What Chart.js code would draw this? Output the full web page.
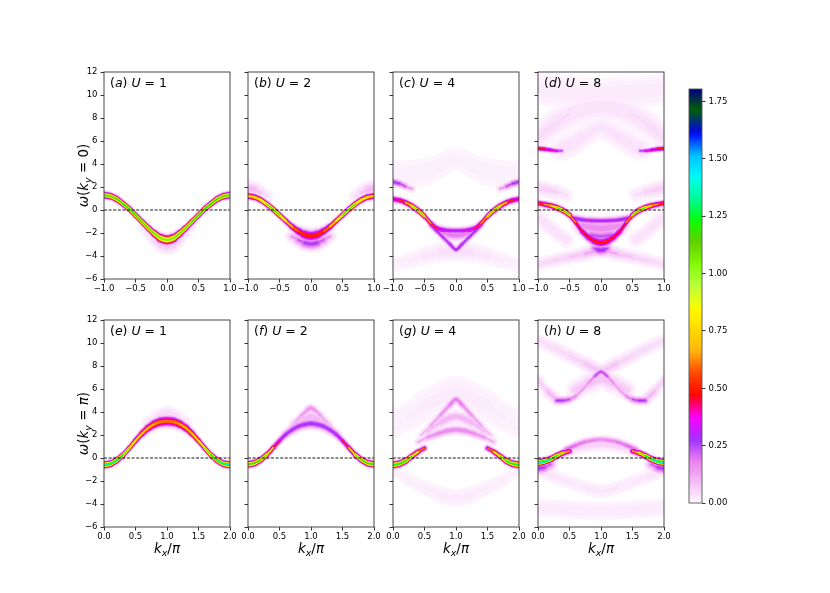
<!DOCTYPE html>
<html><head><meta charset="utf-8">
<script src="https://cdn.jsdelivr.net/npm/chart.js@4.4.1/dist/chart.umd.min.js"></script>
<style>
body{margin:0;background:#fff;width:830px;height:593px;position:relative;overflow:hidden}
canvas{position:absolute}
</style></head><body>
<script>
// ---------------- DATA ----------------
const panelLetters = ['a','b','c','d','e','f','g','h'];
const uValues = [1,2,4,8,1,2,4,8];
const kyValues = ['0','π'];
const xTicksTop = [-1,-0.5,0,0.5,1];
const xTicksBot = [0,0.5,1,1.5,2];
const yTicks = [-6,-4,-2,0,2,4,6,8,10,12];
const cbTicks = [0,0.25,0.5,0.75,1,1.25,1.5,1.75];
const VMAX = 1.805;

const kT = [-1,-0.9,-0.8,-0.7,-0.6,-0.5,-0.4,-0.3,-0.2,-0.1,0,0.1,0.2,0.3,0.4,0.5,0.6,0.7,0.8,0.9,1];
const kB = [0,0.1,0.2,0.3,0.4,0.5,0.6,0.7,0.8,0.9,1,1.1,1.2,1.3,1.4,1.5,1.6,1.7,1.8,1.9,2];
const k9T = [-1,-0.75,-0.5,-0.25,0,0.25,0.5,0.75,1];
const k9B = [0,0.25,0.5,0.75,1,1.25,1.5,1.75,2];

// (a) U=1, ky=0
const aMainW = [1.30,1.20,0.95,0.55,0.10,-0.45,-1.00,-1.55,-2.05,-2.45,-2.60,-2.45,-2.05,-1.55,-1.00,-0.45,0.10,0.55,0.95,1.20,1.30];
const aMainI = [1.2,1.22,1.25,1.3,1.35,1.3,1.25,1.2,1.18,1.15,1.12,1.15,1.18,1.2,1.25,1.3,1.35,1.3,1.25,1.22,1.2];
const aMainS = [0.15,0.15,0.15,0.15,0.15,0.15,0.16,0.17,0.19,0.21,0.22,0.21,0.19,0.17,0.16,0.15,0.15,0.15,0.15,0.15,0.15];
const aHazeK = [-0.4,-0.3,-0.2,-0.1,0,0.1,0.2,0.3,0.4];
const aHazeW = [-1.5,-2.05,-2.6,-3.0,-3.15,-3.0,-2.6,-2.05,-1.5];
const aHazeI = [0.02,0.04,0.06,0.08,0.09,0.08,0.06,0.04,0.02];

// (b) U=2, ky=0
const bMainW = [1.22,1.12,0.88,0.50,0.05,-0.45,-0.95,-1.45,-1.85,-2.15,-2.27,-2.15,-1.85,-1.45,-0.95,-0.45,0.05,0.50,0.88,1.12,1.22];
const bMainI = [0.8,0.85,0.95,1.1,1.3,1.15,0.9,0.7,0.6,0.55,0.55,0.55,0.6,0.7,0.9,1.15,1.3,1.1,0.95,0.85,0.8];
const bMainS = [0.15,0.15,0.15,0.15,0.15,0.15,0.16,0.18,0.22,0.26,0.28,0.26,0.22,0.18,0.16,0.15,0.15,0.15,0.15,0.15,0.15];
const bBlobK = [-0.3,-0.2,-0.1,0,0.1,0.2,0.3];
const bBlobW = [-2.3,-2.6,-2.85,-2.95,-2.85,-2.6,-2.3];
const bBlobI = [0.08,0.18,0.26,0.3,0.26,0.18,0.08];
const bGlowLK = [-1,-0.9,-0.8,-0.7];
const bGlowLW = [1.9,1.75,1.5,1.2];
const bGlowLI = [0.12,0.1,0.06,0.03];
const bGlowRK = [0.7,0.8,0.9,1];
const bGlowRW = [1.2,1.5,1.75,1.9];
const bGlowRI = [0.03,0.06,0.1,0.12];

// (c) U=4, ky=0
const cMainW = [0.95,0.85,0.65,0.35,-0.05,-0.55,-1.15,-1.6,-1.75,-1.8,-1.8,-1.8,-1.75,-1.6,-1.15,-0.55,-0.05,0.35,0.65,0.85,0.95];
const cMainI = [0.45,0.5,0.6,0.9,1.25,0.85,0.6,0.45,0.38,0.35,0.35,0.35,0.38,0.45,0.6,0.85,1.25,0.9,0.6,0.5,0.45];
const cMainS = [0.15,0.15,0.15,0.15,0.15,0.15,0.16,0.18,0.17,0.16,0.16,0.16,0.17,0.18,0.16,0.15,0.15,0.15,0.15,0.15,0.15];
const cVK = [-0.4,-0.3,-0.2,-0.1,0,0.1,0.2,0.3,0.4];
const cVW = [-1.3,-1.85,-2.4,-2.95,-3.45,-2.95,-2.4,-1.85,-1.3];
const cVI = [0.35,0.33,0.3,0.3,0.35,0.3,0.3,0.33,0.35];
const cInK = [-0.2,-0.1,0,0.1,0.2];
const cInW = [-2.05,-2.15,-2.2,-2.15,-2.05];
const cInI = [0.16,0.2,0.22,0.2,0.16];
const cUpLK = [-1,-0.9,-0.8,-0.7];
const cUpLW = [2.45,2.3,2.05,1.85];
const cUpLI = [0.3,0.28,0.18,0.06];
const cUpRK = [0.7,0.8,0.9,1];
const cUpRW = [1.85,2.05,2.3,2.45];
const cUpRI = [0.06,0.18,0.28,0.3];
const cLowW = [-4.8,-4.4,-4.0,-3.7,-3.6,-3.7,-4.0,-4.4,-4.8];
const cLowI = [0.015,0.02,0.03,0.04,0.05,0.04,0.03,0.02,0.015];
const cTopW = [3.2,3.1,3.3,3.9,4.5,3.9,3.3,3.1,3.2];
const cTopI = [0.015,0.02,0.02,0.015,0.015,0.015,0.02,0.02,0.015];

// (d) U=8, ky=0
const dMainW = [0.6,0.5,0.38,0.2,-0.05,-0.45,-1.1,-1.85,-2.35,-2.7,-2.85,-2.7,-2.35,-1.85,-1.1,-0.45,-0.05,0.2,0.38,0.5,0.6];
const dMainI = [0.55,0.6,0.75,0.95,1.3,0.8,0.55,0.5,0.5,0.52,0.55,0.52,0.5,0.5,0.55,0.8,1.3,0.95,0.75,0.6,0.55];
const dMainS = [0.14,0.14,0.14,0.14,0.14,0.15,0.18,0.22,0.23,0.23,0.23,0.23,0.23,0.22,0.18,0.15,0.14,0.14,0.14,0.14,0.14];
const dTopK = [-0.45,-0.3,-0.15,0,0.15,0.3,0.45];
const dTopW = [-0.7,-0.85,-0.92,-0.95,-0.92,-0.85,-0.7];
const dTopI = [0.35,0.33,0.32,0.32,0.32,0.33,0.35];
const dInK = [-0.3,-0.15,0,0.15,0.3];
const dInW = [-1.35,-1.5,-1.6,-1.5,-1.35];
const dInI = [0.17,0.19,0.19,0.19,0.17];
const dIn2K = [-0.15,0,0.15];
const dIn2W = [-2.2,-2.3,-2.2];
const dIn2I = [0.24,0.26,0.24];
const dBlobK = [-0.1,-0.05,0,0.05,0.1];
const dBlobW = [-3.35,-3.45,-3.5,-3.45,-3.35];
const dBlobI = [0.2,0.28,0.32,0.28,0.2];
const dXW = [-4.7,-4.4,-4.1,-3.8,-3.5,-3.8,-4.1,-4.4,-4.7];
const dXI = [0.05,0.06,0.07,0.09,0.14,0.09,0.07,0.06,0.05];
const dSideLK = [-1,-0.85,-0.7,-0.55];
const dSideLW = [-0.6,-1.3,-2.0,-2.6];
const dSideRK = [0.55,0.7,0.85,1];
const dSideRW = [-2.6,-2.0,-1.3,-0.6];
const dSideI = [0.04,0.045,0.045,0.04];
const dUbLK = [-1,-0.9,-0.8,-0.7,-0.62];
const dUbLW = [5.35,5.3,5.22,5.15,5.15];
const dUbLI = [0.55,0.5,0.42,0.32,0.2];
const dUbRK = [0.62,0.7,0.8,0.9,1];
const dUbRW = [5.15,5.15,5.22,5.3,5.35];
const dUbRI = [0.2,0.32,0.42,0.5,0.55];
const dVK = [-0.62,-0.45,-0.3,-0.15,0,0.15,0.3,0.45,0.62];
const dVW = [5.3,5.8,6.3,6.8,7.2,6.8,6.3,5.8,5.3];
const dVI = [0.045,0.045,0.04,0.035,0.035,0.035,0.04,0.045,0.045];
const dArchW = [6.3,7.4,8.3,8.8,9.0,8.8,8.3,7.4,6.3];
const dArchI = [0.05,0.05,0.045,0.04,0.04,0.04,0.045,0.05,0.05];
const dCapW = [10.5,10.35,10.2,10.1,10.0,10.1,10.2,10.35,10.5];
const dCapI = [0.025,0.025,0.03,0.03,0.03,0.03,0.03,0.025,0.025];
const dLhbLK = [-1,-0.85,-0.7,-0.55];
const dLhbLW = [1.9,1.75,1.55,1.3];
const dLhbRK = [0.55,0.7,0.85,1];
const dLhbRW = [1.3,1.55,1.75,1.9];
const dLhbLI = [0.07,0.07,0.05,0.03];
const dLhbRI = [0.03,0.05,0.07,0.07];

// (e) U=1, ky=pi
const eMainW = [-0.6,-0.5,-0.2,0.25,0.85,1.5,2.1,2.6,2.95,3.15,3.2,3.15,2.95,2.6,2.1,1.5,0.85,0.25,-0.2,-0.5,-0.6];
const eMainI = [1.45,1.45,1.4,1.3,1.0,0.85,0.78,0.74,0.7,0.68,0.66,0.68,0.7,0.74,0.78,0.85,1.0,1.3,1.4,1.45,1.45];
const eMainS = [0.15,0.15,0.15,0.15,0.16,0.18,0.2,0.22,0.23,0.24,0.25,0.24,0.23,0.22,0.2,0.18,0.16,0.15,0.15,0.15,0.15];
const eHazeK = [0.7,0.85,1,1.15,1.3];
const eHazeW = [3.1,3.6,3.9,3.6,3.1];
const eHazeI = [0.03,0.05,0.06,0.05,0.03];

// (f) U=2, ky=pi
const fMainW = [-0.55,-0.45,-0.15,0.3,0.9,1.5,2.05,2.45,2.75,2.92,3.0,2.92,2.75,2.45,2.05,1.5,0.9,0.3,-0.15,-0.45,-0.55];
const fMainI = [1.25,1.25,1.25,1.1,0.6,0.38,0.32,0.3,0.3,0.3,0.3,0.3,0.3,0.3,0.32,0.38,0.6,1.1,1.25,1.25,1.25];
const fMainS = [0.15,0.15,0.15,0.16,0.18,0.2,0.22,0.23,0.23,0.23,0.23,0.23,0.23,0.23,0.22,0.2,0.18,0.16,0.15,0.15,0.15];
const fTentK = [0.55,0.65,0.75,0.85,0.95,1,1.05,1.15,1.25,1.35,1.45];
const fTentW = [1.8,2.5,3.1,3.7,4.2,4.35,4.2,3.7,3.1,2.5,1.8];
const fTentI = [0.08,0.11,0.13,0.15,0.17,0.17,0.17,0.15,0.13,0.11,0.08];
const fInK = [0.75,0.9,1,1.1,1.25];
const fInW = [2.95,3.4,3.6,3.4,2.95];
const fInI = [0.1,0.12,0.12,0.12,0.1];

// (g) U=4, ky=pi
const gLK = [0,0.1,0.2,0.3,0.4,0.5];
const gLW = [-0.6,-0.5,-0.25,0.15,0.55,0.85];
const gLI = [1.3,1.3,1.3,1.1,0.7,0.35];
const gRK = [1.5,1.6,1.7,1.8,1.9,2];
const gRW = [0.85,0.55,0.15,-0.25,-0.5,-0.6];
const gRI = [0.35,0.7,1.1,1.3,1.3,1.3];
const gA1K = [0.4,0.55,0.7,0.85,1,1.15,1.3,1.45,1.6];
const gA1W = [1.4,1.8,2.1,2.35,2.45,2.35,2.1,1.8,1.4];
const gA1I = [0.06,0.14,0.18,0.19,0.19,0.19,0.18,0.14,0.06];
const gA2K = [0.45,0.6,0.75,0.9,1,1.1,1.25,1.4,1.55];
const gA2W = [2.0,2.8,3.7,4.6,5.1,4.6,3.7,2.8,2.0];
const gA2I = [0.05,0.12,0.16,0.19,0.22,0.19,0.16,0.12,0.05];
const gA3K = [0.55,0.75,1,1.25,1.45];
const gA3W = [2.3,3.1,3.6,3.1,2.3];
const gA3I = [0.08,0.11,0.12,0.11,0.08];
const gHzW = [3.0,3.6,4.5,5.2,5.8,5.2,4.5,3.6,3.0];
const gHzI = [0.015,0.02,0.025,0.025,0.025,0.025,0.025,0.02,0.015];
const gLoW = [-1.0,-1.9,-2.6,-3.2,-3.5,-3.2,-2.6,-1.9,-1.0];
const gLoI = [0.012,0.018,0.02,0.025,0.025,0.025,0.02,0.018,0.012];

// (h) U=8, ky=pi
const hLK = [0,0.1,0.2,0.3,0.4,0.5];
const hLW = [-0.4,-0.3,-0.1,0.2,0.45,0.6];
const hLI = [1.5,1.5,1.4,1.2,0.8,0.45];
const hRK = [1.5,1.6,1.7,1.8,1.9,2];
const hRW = [0.6,0.45,0.2,-0.1,-0.3,-0.4];
const hRI = [0.45,0.8,1.2,1.4,1.5,1.5];
const hLoLK = [0,0.1,0.2];
const hLoLW = [-0.9,-0.8,-0.55];
const hLoLI = [0.3,0.25,0.15];
const hLoRK = [1.8,1.9,2];
const hLoRW = [-0.55,-0.8,-0.9];
const hLoRI = [0.15,0.25,0.3];
const hA1K = [0.45,0.6,0.75,0.9,1,1.1,1.25,1.4,1.55];
const hA1W = [0.75,1.1,1.4,1.55,1.6,1.55,1.4,1.1,0.75];
const hA1I = [0.24,0.22,0.2,0.18,0.18,0.18,0.2,0.22,0.24];
const hA1bK = [0.6,0.8,1,1.2,1.4];
const hA1bW = [0.9,1.15,1.25,1.15,0.9];
const hA1bI = [0.07,0.08,0.08,0.08,0.07];
const hUbK = [0.3,0.4,0.5,0.6,0.7,0.8,0.9,1,1.1,1.2,1.3,1.4,1.5,1.6,1.7];
const hUbW = [5.0,5.0,5.1,5.4,5.9,6.5,7.1,7.5,7.1,6.5,5.9,5.4,5.1,5.0,5.0];
const hUbI = [0.28,0.28,0.2,0.15,0.14,0.16,0.22,0.3,0.22,0.16,0.14,0.15,0.2,0.28,0.28];
const hXW = [10.2,9.6,8.9,8.2,7.6,8.2,8.9,9.6,10.2];
const hXI = [0.04,0.05,0.06,0.07,0.1,0.07,0.06,0.05,0.04];
const hOutLK = [0,0.15,0.3];
const hOutLW = [6.8,5.8,5.05];
const hOutRK = [1.7,1.85,2];
const hOutRW = [5.05,5.8,6.8];
const hOutLI = [0.06,0.08,0.12];
const hOutRI = [0.12,0.08,0.06];
const hFillK = [0.6,0.8,1,1.2,1.4];
const hFillW = [5.9,6.5,6.9,6.5,5.9];
const hFillI = [0.08,0.09,0.1,0.09,0.08];
const hLXW = [-1.0,-1.6,-2.1,-2.6,-2.9,-2.6,-2.1,-1.6,-1.0];
const hLXI = [0.04,0.035,0.03,0.03,0.035,0.03,0.03,0.035,0.04];
const hBotK = [0,0.5,1,1.5,2];
const hBotW = [-4.3,-4.5,-4.6,-4.5,-4.3];
const hBotI = [0.03,0.03,0.03,0.03,0.03];

// Bands per panel: [k, omega, intensity, broadening (omega units)]
const panelBands = [
  [[kT,aMainW,aMainI,aMainS],[aHazeK,aHazeW,aHazeI,0.35]],
  [[kT,bMainW,bMainI,bMainS],[bBlobK,bBlobW,bBlobI,0.3],[bGlowLK,bGlowLW,bGlowLI,0.35],[bGlowRK,bGlowRW,bGlowRI,0.35]],
  [[kT,cMainW,cMainI,cMainS],[cVK,cVW,cVI,0.18],[cInK,cInW,cInI,0.25],[cUpLK,cUpLW,cUpLI,0.18],[cUpRK,cUpRW,cUpRI,0.18],
   [k9T,cLowW,cLowI,0.45],[k9T,cTopW,cTopI,0.8]],
  [[kT,dMainW,dMainI,dMainS],[dTopK,dTopW,dTopI,0.17],[dInK,dInW,dInI,0.4],[dIn2K,dIn2W,dIn2I,0.3],[dBlobK,dBlobW,dBlobI,0.28],
   [k9T,dXW,dXI,0.3],[dSideLK,dSideLW,dSideI,0.45],[dSideRK,dSideRW,dSideI,0.45],[dUbLK,dUbLW,dUbLI,0.12],[dUbRK,dUbRW,dUbRI,0.12],
   [dVK,dVW,dVI,0.6],[k9T,dArchW,dArchI,0.7],[k9T,dCapW,dCapI,0.8],[dLhbLK,dLhbLW,dLhbLI,0.35],[dLhbRK,dLhbRW,dLhbRI,0.35]],
  [[kB,eMainW,eMainI,eMainS],[eHazeK,eHazeW,eHazeI,0.35]],
  [[kB,fMainW,fMainI,fMainS],[fTentK,fTentW,fTentI,0.2],[fInK,fInW,fInI,0.3]],
  [[gLK,gLW,gLI,0.15],[gRK,gRW,gRI,0.15],[gA1K,gA1W,gA1I,0.2],[gA2K,gA2W,gA2I,0.22],[gA3K,gA3W,gA3I,0.3],[k9B,gHzW,gHzI,0.9],[k9B,gLoW,gLoI,0.45]],
  [[hLK,hLW,hLI,0.15],[hRK,hRW,hRI,0.15],[hLoLK,hLoLW,hLoLI,0.3],[hLoRK,hLoRW,hLoRI,0.3],[hA1K,hA1W,hA1I,0.18],[hA1bK,hA1bW,hA1bI,0.3],
   [hUbK,hUbW,hUbI,0.18],[k9B,hXW,hXI,0.35],[hOutLK,hOutLW,hOutLI,0.35],[hOutRK,hOutRW,hOutRI,0.35],[hFillK,hFillW,hFillI,0.45],
   [k9B,hLXW,hLXI,0.35],[hBotK,hBotW,hBotI,0.45]]
];

// ---------------- STYLE / LAYOUT ----------------
const PANEL_X = [104,248,393,538], PANEL_Y = [72,320], PW = 126, PH = 207;
const LEVELS = [0.006,0.012,0.02,0.03,0.045,0.06,0.08,0.1,0.13,0.16,0.19,0.23,0.27,0.31,0.35,0.4,0.45,0.5,0.55,0.6,0.68,0.76,0.85,0.95,1.05,1.15,1.25,1.35,1.45,1.55];
const FONT = '"DejaVu Sans", "Liberation Sans", sans-serif';

const NCAR = {
 r:[[0,0],[0.3098,0],[0.3725,0.3993],[0.4235,0.5003],[0.5333,1],[0.7922,1],[0.8471,0.6218],[0.898,0.9235],[1,0.9961]],
 g:[[0,0],[0.051,0.3722],[0.1059,0],[0.1569,0.7202],[0.1608,0.7537],[0.1647,0.7752],[0.2157,1],[0.2588,0.9804],[0.2706,0.9804],[0.3176,1],[0.3686,0.8081],[0.4275,1],[0.5216,1],[0.63,0.7292],[0.6863,0.2796],[0.7451,0],[0.7922,0],[0.8431,0.1753],[0.898,0.5],[1,0.9725]],
 b:[[0,0.502],[0.051,0.0222],[0.1098,1],[0.2039,1],[0.2627,0.6145],[0.3216,0],[0.4157,0],[0.4745,0.2342],[0.5333,0],[0.5804,0],[0.6314,0.0549],[0.6902,0],[0.7373,0],[0.7922,0.9738],[0.8,1],[0.8431,1],[0.898,0.9341],[1,0.9961]]
};
function interp(t,s){for(let i=1;i<t.length;i++){if(s<=t[i][0]){const a=t[i-1],b=t[i];return a[1]+(b[1]-a[1])*(s-a[0])/(b[0]-a[0]);}}return t[t.length-1][1];}
function cmap(v){const s=1-Math.min(Math.max(v/VMAX,0),1);
  return 'rgb('+Math.round(255*interp(NCAR.r,s))+','+Math.round(255*interp(NCAR.g,s))+','+Math.round(255*interp(NCAR.b,s))+')';}

function sAt(s,i){return Array.isArray(s)?s[i]:s;}
function halfW(band,i,L,pxPer){const I=band[2][i];if(I<=L)return 0;return sAt(band[3],i)*pxPer*Math.sqrt(2*Math.log(I/L));}
function segW(ctx,band,L){
  const y=ctx.chart.scales.y;const pxPer=Math.abs(y.getPixelForValue(1)-y.getPixelForValue(0));
  const dx=ctx.p1.x-ctx.p0.x, dy=ctx.p1.y-ctx.p0.y, len=Math.hypot(dx,dy)||1;
  const f=Math.max(Math.abs(dx)/len,0.35);
  return (halfW(band,ctx.p0DataIndex,L,pxPer)+halfW(band,ctx.p1DataIndex,L,pxPer))*f;
}
function bandDatasets(band){
  const out=[];const maxI=Math.max(...band[2]);
  LEVELS.forEach((L,li)=>{
    if(maxI<=L)return;
    const col=cmap(L);
    out.push({data:band[0].map((k,i)=>({x:k,y:band[1][i]})),borderColor:col,borderWidth:1,pointRadius:0,pointHitRadius:0,
      tension:0.3,clip:0,fill:false,order:100-li,borderCapStyle:'round',borderJoinStyle:'round',
      segment:{borderWidth:c=>{const w=segW(c,band,L);return w<0.3?1:w;},
               borderColor:c=>segW(c,band,L)<0.3?'rgba(0,0,0,0)':col}});
  });
  return out;
}
function fmtTick(v,d){return (v<0?'\u2212':'')+Math.abs(v).toFixed(d);}
function richWidth(ctx,parts,size){let w=0;for(const p of parts){ctx.font=(p[1]?'italic ':'')+(p[2]?size*0.7:size)+'px '+FONT;w+=ctx.measureText(p[0]).width;}return w;}
function drawRich(ctx,parts,x,y,size){let cx=x;for(const p of parts){const fs=p[2]?size*0.7:size;ctx.font=(p[1]?'italic ':'')+fs+'px '+FONT;
  ctx.fillText(p[0],cx,y+(p[2]?size*0.25:0));cx+=ctx.measureText(p[0]).width;}}

const framePlugin={id:'frame',afterDatasetsDraw(chart){const{ctx,chartArea:a}=chart;ctx.save();ctx.strokeStyle='#333';ctx.lineWidth=0.9;
  ctx.strokeRect(a.left,a.top,a.right-a.left,a.bottom-a.top);ctx.restore();}};

function makePanel(idx){
  const row=Math.floor(idx/4), col=idx%4;
  const Lm=45,Tm=14,Rm=16,Bm=40;const W=PW+Lm+Rm,H=PH+Tm+Bm;
  const cv=document.createElement('canvas');cv.width=W;cv.height=H;
  cv.style.left=(PANEL_X[col]-Lm)+'px';cv.style.top=(PANEL_Y[row]-Tm)+'px';cv.style.width=W+'px';cv.style.height=H+'px';
  document.body.appendChild(cv);
  const xt=row===0?xTicksTop:xTicksBot;
  let datasets=[];
  panelBands[idx].forEach(b=>{datasets=datasets.concat(bandDatasets(b));});
  datasets.push({data:[{x:xt[0],y:0},{x:xt[xt.length-1],y:0}],borderColor:'#000',borderWidth:0.9,borderDash:[3,1.6],pointRadius:0,order:-10,clip:0,tension:0});
  const textPlugin={id:'txt',afterDraw(chart){
    const{ctx,chartArea:a}=chart;ctx.save();ctx.fillStyle='#000';ctx.textBaseline='alphabetic';
    drawRich(ctx,[['(',0],[panelLetters[idx],1],[')',0],[' ',0],['U',1],[' = ',0],[String(uValues[idx]),0]],a.left+6,a.top+15,12.5);
    if(col===0){
      const parts=[['ω',1],['(',0],['k',1],['y',1,1],[' = ',0],[kyValues[row],row===1?1:0],[')',0]];
      const w=richWidth(ctx,parts,13.5);
      ctx.translate(a.left-16,(a.top+a.bottom)/2);ctx.rotate(-Math.PI/2);
      drawRich(ctx,parts,-w/2,0,13.5);
      ctx.setTransform(1,0,0,1,0,0);
    }
    if(row===1){
      const parts=[['k',1],['x',1,1],['/',0],['π',1]];const w=richWidth(ctx,parts,13.5);
      drawRich(ctx,parts,(a.left+a.right)/2-w/2,a.bottom+26,13.5);
    }
    ctx.restore();}};
  new Chart(cv,{type:'line',data:{datasets},plugins:[framePlugin,textPlugin],
    options:{responsive:false,animation:false,events:[],
      layout:{padding:{left:0,top:Tm,right:Rm,bottom:0}},
      plugins:{legend:{display:false},tooltip:{enabled:false},title:{display:false}},
      scales:{
        x:{type:'linear',min:xt[0],max:xt[xt.length-1],
          afterBuildTicks:s=>{s.ticks=xt.map(v=>({value:v}));},
          afterFit:s=>{s.height=Bm;s.paddingLeft=0;s.paddingRight=0;},
          ticks:{callback:v=>fmtTick(v,1),font:{family:FONT,size:8.5},color:'#000',padding:1,maxRotation:0,autoSkip:false},
          grid:{drawOnChartArea:false,drawTicks:true,tickLength:3.5,color:'#000',lineWidth:0.8},border:{display:false}},
        y:{type:'linear',min:-6,max:12,
          afterBuildTicks:s=>{s.ticks=yTicks.map(v=>({value:v}));},
          afterFit:s=>{s.width=Lm;s.paddingTop=0;s.paddingBottom=0;},
          ticks:{callback:v=>col===0?fmtTick(v,0):'',font:{family:FONT,size:8.5},color:'#000',padding:3,autoSkip:false},
          grid:{drawOnChartArea:false,drawTicks:true,tickLength:3.5,color:'#000',lineWidth:0.8},border:{display:false}}
      }}});
}
for(let i=0;i<8;i++)makePanel(i);

// colorbar
(function(){
  const cv=document.createElement('canvas');const W=60,H=440;cv.width=W;cv.height=H;
  cv.style.left='684px';cv.style.top='80px';cv.style.width=W+'px';cv.style.height=H+'px';document.body.appendChild(cv);
  const gradPlugin={id:'grad',beforeDatasetsDraw(chart){
    const{ctx,chartArea:a,scales:{y}}=chart;const y0=y.getPixelForValue(0),y1=y.getPixelForValue(VMAX);
    const g=ctx.createLinearGradient(0,y0,0,y1);for(let i=0;i<=80;i++){g.addColorStop(i/80,cmap(VMAX*i/80));}
    ctx.save();ctx.fillStyle=g;ctx.fillRect(a.left,a.top,a.right-a.left,a.bottom-a.top);
    ctx.strokeStyle='#555';ctx.lineWidth=0.9;ctx.strokeRect(a.left,a.top,a.right-a.left,a.bottom-a.top);ctx.restore();}};
  new Chart(cv,{type:'line',data:{datasets:[{data:[]}]},plugins:[gradPlugin],
    options:{responsive:false,animation:false,events:[],layout:{padding:{left:5,top:9,right:0,bottom:17}},
      plugins:{legend:{display:false},tooltip:{enabled:false}},
      scales:{x:{type:'linear',display:false,min:0,max:1},
        y:{type:'linear',position:'right',min:0,max:VMAX,
          afterBuildTicks:s=>{s.ticks=cbTicks.map(v=>({value:v}));},
          afterFit:s=>{s.width=W-5-13;s.paddingTop=0;s.paddingBottom=0;},
          ticks:{callback:v=>v.toFixed(2),font:{family:FONT,size:8.5},color:'#000',padding:3,autoSkip:false},
          grid:{drawOnChartArea:false,drawTicks:true,tickLength:3.5,color:'#000',lineWidth:0.8},border:{display:false}}}}});
})();
</script>
</body></html>
